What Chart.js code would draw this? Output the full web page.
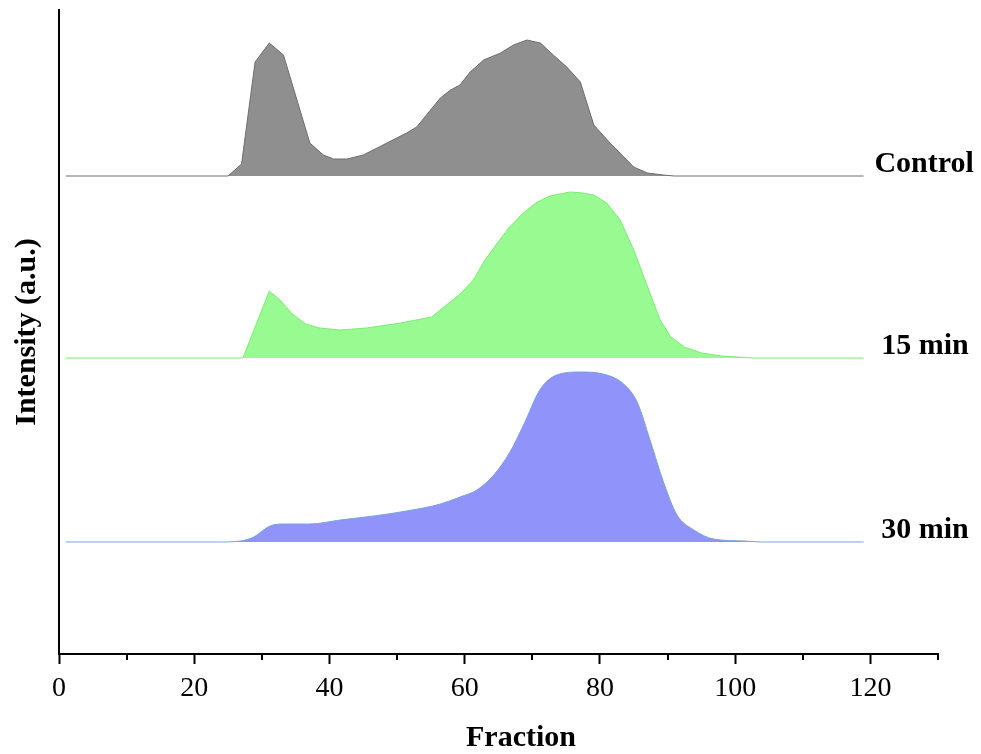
<!DOCTYPE html>
<html>
<head>
<meta charset="utf-8">
<script src="https://cdn.jsdelivr.net/npm/chart.js@4.4.1/dist/chart.umd.min.js"></script>
<style>
  body { margin: 0; background: #fff; }
  #wrap { width: 981px; height: 754px; }
</style>
</head>
<body>
<div id="wrap"><canvas id="fractionChart"></canvas></div>
<script>
// values: fraction number and peak height (a.u.)
const seriesNames = ["Control", "15 min", "30 min"];
const offsets = [478, 296, 112]; // vertical stacking of each trace

const controlX = [1, 25, 27, 29, 31.1, 33.2, 37.1, 39.1, 40.6, 42.6, 45, 48.5, 51.4, 52.9, 56.4, 57.9, 59.3, 60.8, 62.8, 65.3, 67.2, 69.2, 71.2, 73.1, 75.1, 77.1, 79.1, 81.5, 85, 87, 89.4, 91, 119];
const controlY = [0, 0, 12, 114, 133, 121, 33, 21, 17, 17, 21, 33, 43, 49, 78, 86, 91, 104, 116, 123, 131, 136, 133, 121, 109, 94, 51, 33, 9, 3, 1, 0, 0];

const min15X = [1, 27.2, 31.1, 32.7, 34.5, 36.5, 38.5, 41.6, 45.5, 50.5, 55.1, 59.3, 61.3, 62.8, 64.5, 66.5, 68.5, 70.5, 72.5, 75.6, 77.5, 79.1, 81, 83, 85, 87, 88.9, 90.5, 92.5, 95, 98, 102.7, 119];
const min15Y = [0, 0, 67, 58, 44, 34, 30, 28, 30, 35, 41, 64, 78, 96, 112, 130, 144, 155, 162, 166, 165, 163, 155, 138, 108, 72, 38, 21, 11, 5, 2, 0, 0];

const min30X = [1, 23.6, 26.8, 28.8, 31.2, 33.2, 37.1, 41.6, 46.5, 51.4, 56.4, 59.3, 61.8, 64.3, 66.7, 68.7, 71.2, 73.6, 77.1, 80.5, 83.5, 85.5, 87.5, 89.4, 91.4, 93.9, 96.8, 101.3, 104, 119];
const min30Y = [0, 0, 1, 5, 16, 18, 18, 22, 26, 31, 38, 45, 52, 67, 90, 117, 153, 167, 170, 168, 158, 140, 100, 60, 27, 12, 3, 1, 0, 0];

const xTicks = [0, 20, 40, 60, 80, 100, 120];
const xMinorTicks = [10, 30, 50, 70, 90, 110, 130];

const fills = ["rgb(143,143,143)", "rgb(152,251,146)", "rgb(143,147,250)"];
const lines = ["rgb(110,110,110)", "rgb(125,235,115)", "rgb(120,165,220)"];
const serif = "'Liberation Serif', 'Times New Roman', serif";

function toPoints(xs, ys, off) {
    return xs.map((x, i) => ({ x: x, y: ys[i] + off }));
}

const traces = [[controlX, controlY], [min15X, min15Y], [min30X, min30Y]];

const datasets = traces.map((t, i) => ({
    label: seriesNames[i],
    data: toPoints(t[0], t[1], offsets[i]),
    borderColor: lines[i],
    backgroundColor: fills[i],
    borderWidth: 1,
    pointRadius: 0,
    fill: { value: offsets[i] },
    tension: i === 2 ? 0.3 : 0,
    cubicInterpolationMode: i === 2 ? 'monotone' : 'default'
}));

// short minor ticks, series names and the x title
const extras = {
    id: 'extras',
    afterDraw(chart) {
        const ctx = chart.ctx;
        const xs = chart.scales.x;
        const ys = chart.scales.y;
        const bottom = chart.chartArea.bottom;
        ctx.save();
        ctx.strokeStyle = '#000';
        ctx.lineWidth = 2;
        xMinorTicks.forEach(v => {
            const px = Math.round(xs.getPixelForValue(v));
            ctx.beginPath();
            ctx.moveTo(px, bottom);
            ctx.lineTo(px, bottom + 6);
            ctx.stroke();
        });

        ctx.fillStyle = '#000';
        ctx.font = "bold 30px " + serif;
        ctx.textBaseline = 'middle';
        ctx.textAlign = 'left';
        const nameX = [120.6, 121.6, 121.6];
        seriesNames.forEach((name, i) => {
            ctx.fillText(name, xs.getPixelForValue(nameX[i]), ys.getPixelForValue(offsets[i]) - 12);
        });

        ctx.textAlign = 'center';
        ctx.fillText("Fraction", 521, 738);
        ctx.restore();
    }
};

const ctx = document.getElementById('fractionChart').getContext('2d');
new Chart(ctx, {
    type: 'line',
    data: { datasets: datasets },
    options: {
        responsive: true,
        maintainAspectRatio: false,
        animation: false,
        layout: { padding: { top: 10, right: 43, left: 0, bottom: 0 } },
        plugins: {
            legend: { display: false },
            tooltip: { enabled: false }
        },
        scales: {
            x: {
                type: 'linear',
                min: 0,
                max: 130,
                afterFit: s => { s.height = 100; },
                afterBuildTicks: s => { s.ticks = xTicks.map(v => ({ value: v })); },
                border: { display: true, color: '#000', width: 2 },
                grid: {
                    display: true,
                    drawOnChartArea: false,
                    drawTicks: true,
                    tickLength: 10,
                    tickWidth: 2,
                    tickColor: '#000'
                },
                ticks: {
                    color: '#000',
                    padding: 8,
                    maxRotation: 0,
                    font: { family: serif, size: 28 }
                }
            },
            y: {
                type: 'linear',
                min: 0,
                max: 644,
                afterFit: s => { s.width = 59; },
                border: { display: true, color: '#000', width: 2 },
                grid: { display: false },
                ticks: { display: false },
                title: {
                    display: true,
                    text: 'Intensity (a.u.)',
                    color: '#000',
                    padding: { top: 9 },
                    font: { family: serif, size: 30, weight: 'bold' }
                }
            }
        }
    },
    plugins: [extras]
});
</script>
</body>
</html>
